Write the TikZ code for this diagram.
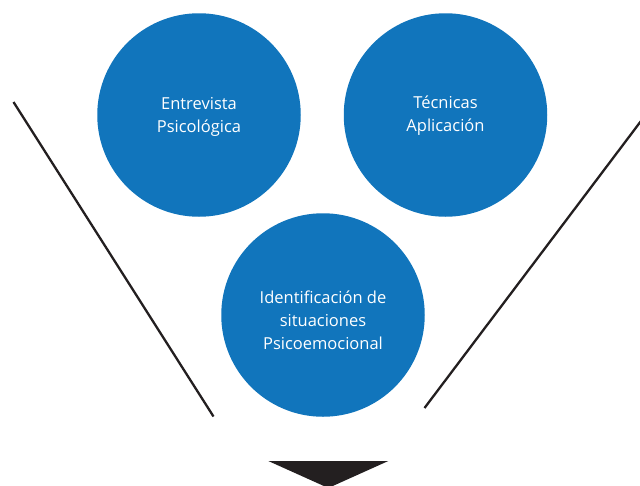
\documentclass[tikz,border=0pt]{standalone}
\usepackage{fontspec}
\setmainfont{Open Sans}
\definecolor{circblue}{HTML}{1175BC}
\definecolor{darkline}{HTML}{231F20}
\begin{document}
\begin{tikzpicture}[x=1pt,y=-1pt,
  bubble/.style={circle,fill=circblue,minimum size=203.5pt,inner sep=0pt,text=white,
    font=\fontsize{16.5}{23}\selectfont,align=center},
  funnel/.style={draw=darkline,line width=2.3pt}]
\useasboundingbox (0,0) rectangle (640,485);
\node[bubble] (entrevista) at (199,115) {};
\node[text=white,font=\fontsize{16.5}{23}\selectfont,align=center] (entrevistatext) at (199,116.5) {Entrevista\\Psicológica};
\node[bubble] (tecnicas) at (445.5,115) {};
\node[text=white,font=\fontsize{16.5}{23}\selectfont,align=center] (tecnicastext) at (445.5,116) {Técnicas\\Aplicación};
\node[bubble] (identificacion) at (323,315) {};
\node[text=white,font=\fontsize{16.5}{23}\selectfont,align=center] (identificaciontext) at (323,320) {Identificación de\\situaciones\\Psicoemocional};
\coordinate (l1) at (13.5,102);
\coordinate (l2) at (213.5,416.5);
\coordinate (r1) at (641,121);
\coordinate (r2) at (424.5,408);
\draw[funnel] (l1) -- (l2);
\draw[funnel] (r1) -- (r2);
\coordinate (t1) at (268.3,461);
\coordinate (t2) at (388.3,461);
\coordinate (t3) at (328.3,488);
\fill[darkline] (t1) -- (t2) -- (t3) -- cycle;
\end{tikzpicture}
\end{document}
